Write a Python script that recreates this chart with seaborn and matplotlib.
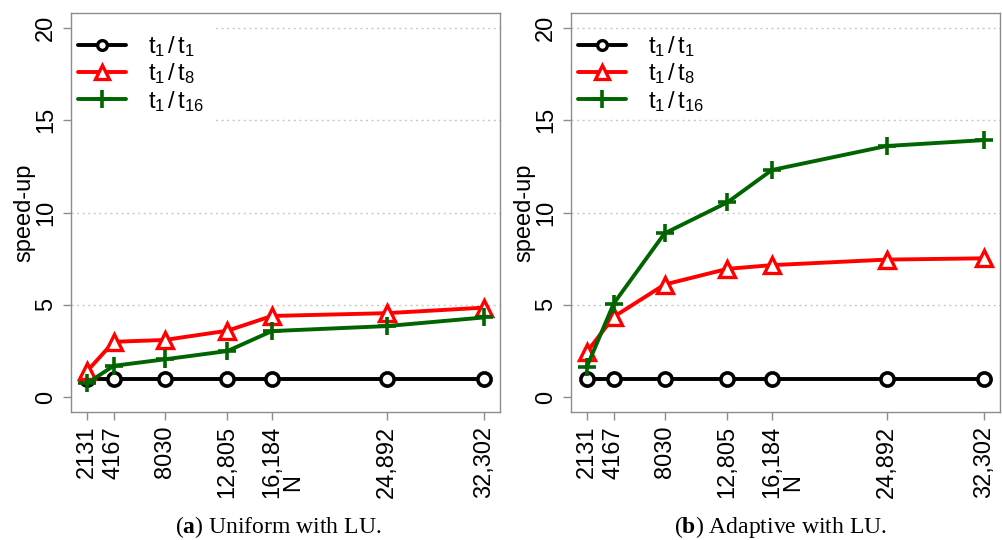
import matplotlib
matplotlib.use("Agg")
import matplotlib.pyplot as plt
import seaborn as sns
import pandas as pd
from matplotlib.lines import Line2D
from matplotlib.patches import Rectangle

# ---- data ----
N = [2131, 4167, 8030, 12805, 16184, 24892, 32302]
N_labels = ["2131", "4167", "8030", "12,805", "16,184", "24,892", "32,302"]

uni_t1 = [1, 1, 1, 1, 1, 1, 1]
uni_t8 = [1.4, 3.0, 3.1, 3.6, 4.4, 4.55, 4.85]
uni_t16 = [0.75, 1.7, 2.05, 2.5, 3.58, 3.85, 4.32]

ada_t1 = [1, 1, 1, 1, 1, 1, 1]
ada_t8 = [2.45, 4.35, 6.1, 6.95, 7.15, 7.45, 7.52]
ada_t16 = [1.65, 5.07, 8.87, 10.55, 12.3, 13.6, 13.92]

series_labels = [r"$\mathregular{t_1\,/\,t_1}$", r"$\mathregular{t_1\,/\,t_8}$", r"$\mathregular{t_1\,/\,t_{16}}$"]
captions = [r"($\mathbf{a}$) Uniform with LU.", r"($\mathbf{b}$) Adaptive with LU."]

sns.set_style("white")
plt.rcParams["font.family"] = ["Liberation Sans", "DejaVu Sans"]
plt.rcParams["mathtext.fontset"] = "custom"
plt.rcParams["mathtext.rm"] = "Liberation Sans"
plt.rcParams["mathtext.it"] = "Liberation Sans:italic"
plt.rcParams["mathtext.bf"] = "Liberation Serif:bold"
plt.rcParams["text.color"] = "black"
plt.rcParams["xtick.color"] = "black"
plt.rcParams["ytick.color"] = "black"
plt.rcParams["axes.labelcolor"] = "black"

FS = 17
colors = ["black", "#FF0000", "#006400"]
styles = [
    dict(marker="o", ms=9.5, mew=2.6, mfc="white"),
    dict(marker="^", ms=11, mew=2.4, mfc="white"),
    dict(marker="+", ms=13, mew=2.6),
]
leg_styles = [
    dict(marker="o", ms=7, mew=2.4, mfc="white"),
    dict(marker="^", ms=10, mew=2.4, mfc="white"),
    dict(marker="+", ms=13, mew=2.6),
]

fig = plt.figure(figsize=(10.03, 5.40), dpi=100)
W, H = 1003, 540
boxes = [(71, 500), (571, 1000)]
top_px, bot_px = 13, 412
panels = [[uni_t1, uni_t8, uni_t16], [ada_t1, ada_t8, ada_t16]]
cap_x = [278, 780]

frame_col = "#8c8c8c"
for i, (l, r) in enumerate(boxes):
    ax = fig.add_axes([l / W, 1 - bot_px / H, (r - l) / W, (bot_px - top_px) / H])
    xr = N[-1] - N[0]
    ax.set_xlim(N[0] - 0.04 * xr, N[-1] + 0.04 * xr)
    ax.set_ylim(-0.8, 20.8)
    for y in [5, 10, 15, 20]:
        ax.axhline(y, color="#c8c8c8", lw=1.0, ls=(0, (1.5, 2.5)), zorder=0)
    # white legend background
    ax.add_patch(Rectangle((0, (bot_px - 126) / (bot_px - top_px)), (214 - l + (0 if i == 0 else 500) - (0 if i == 0 else 500)) / (r - l),
                           1.0, transform=ax.transAxes, facecolor="white", edgecolor="none", zorder=1))
    for k, vals in enumerate(panels[i]):
        df = pd.DataFrame({"N": N, "v": vals})
        sns.lineplot(data=df, x="N", y="v", ax=ax, color=colors[k], lw=2.8,
                     mec=colors[k], zorder=3 + k, **styles[k])
    ax.set_xticks(N)
    ax.set_xticklabels(N_labels, rotation=90, fontsize=FS)
    ax.set_yticks([0, 5, 10, 15, 20])
    ax.set_yticklabels(["0", "5", "10", "15", "20"], rotation=90, va="center", fontsize=FS)
    ax.tick_params(axis="both", direction="out", length=6, width=1, color=frame_col,
                   pad=4, left=True, bottom=True)
    for s in ax.spines.values():
        s.set_color(frame_col)
        s.set_linewidth(1.0)
        s.set_zorder(12)
    ax.set_xlabel("N", rotation=90, fontsize=FS, va="center", ha="center")
    ax.xaxis.set_label_coords(0.517, -0.178)
    ax.set_ylabel("speed-up", fontsize=FS)
    ax.yaxis.set_label_coords(-0.082, 0.5)
    handles = [Line2D([], [], color=colors[k], lw=2.8, mec=colors[k], **leg_styles[k]) for k in range(3)]
    leg = ax.legend(handles, series_labels, loc="upper left", bbox_to_anchor=(0, 1 - 14 / 399),
                    borderaxespad=0.0, frameon=False, fontsize=FS,
                    handlelength=2.05, handletextpad=0.9, labelspacing=0.1,
                    borderpad=0.3)
    leg.set_zorder(10)
    fig.text(cap_x[i] / W, 1 - 527 / H, captions[i], ha="center", va="center",
             fontsize=17, family="Liberation Serif")

fig.savefig("out.png", dpi=100)
